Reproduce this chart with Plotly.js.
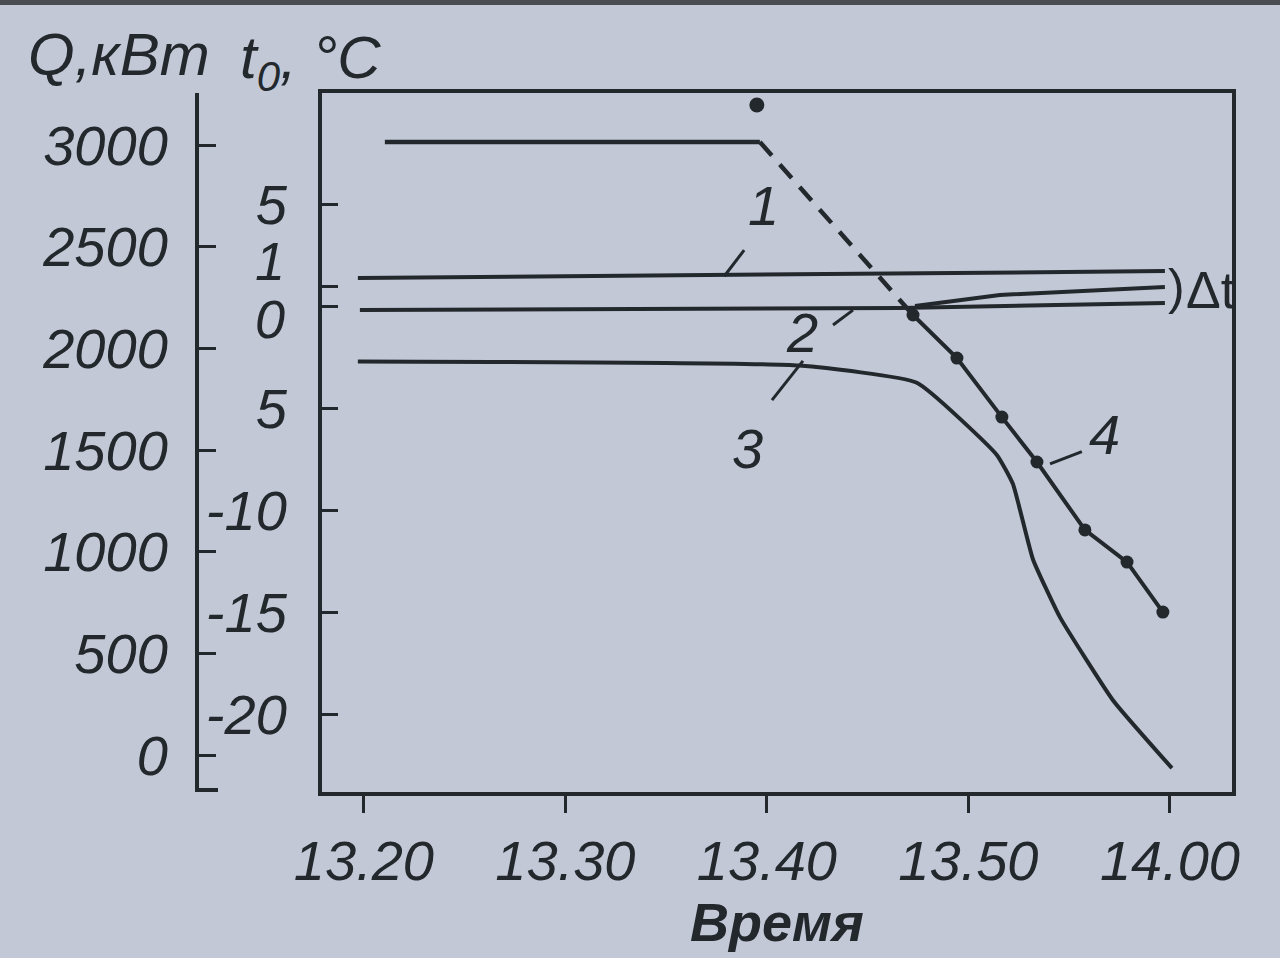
<!DOCTYPE html>
<html>
<head>
<meta charset="utf-8">
<script src="https://cdn.plot.ly/plotly-3.0.1.min.js"></script>
<style>
  html, body { margin: 0; padding: 0; background: #c3c8d7; }
  #chart { width: 1280px; height: 958px; }
</style>
</head>
<body>
<div id="chart"></div>
<script>
// ---- data (time in minutes after 13:00) ----
const xTickVals = [20, 30, 40, 50, 60];
const xTickText = ['13.20', '13.30', '13.40', '13.50', '14.00'];
const qTickVals = [0, 500, 1000, 1500, 2000, 2500, 3000];
const qTickText = ['0', '500', '1000', '1500', '2000', '2500', '3000'];
const tTickVals = [5, -5, -10, -15, -20];
const tTickText = ['5', '5', '-10', '-15', '-20'];
const tTickOneVal = [1];
const tTickOneText = ['1'];
const tTickZeroVal = [0];
const tTickZeroText = ['0'];

// curve 1 (temperature)
const curve1Time = [19.7, 59.75];
const curve1Temp = [1.41, 1.75];
// curve 2 (temperature) and its upper branch
const curve2Time = [19.8, 46.6, 59.75];
const curve2Temp = [-0.16, -0.06, 0.19];
const curve2bTime = [47.35, 51.56, 59.75];
const curve2bTemp = [0.04, 0.58, 0.97];
// curve 3 (t0)
const curve3Time = [19.7, 41.6, 47.44, 51.41, 52.21, 53.2, 54.54, 57.17, 60.1];
const curve3Temp = [-2.68, -2.88, -3.72, -7.26, -8.69, -12.37, -15.21, -19.28, -22.61];
// Q before drop (solid) and estimated drop (dashed)
const qFlatTime = [21.04, 39.65];
const qFlatVal = [3015, 3015];
const qDashTime = [39.65, 47.25];
const qDashVal = [3015, 2164];
const qDotTime = [39.5];
const qDotVal = [3197];
// curve 4 (Q, measured points)
const curve4Time = [47.25, 49.43, 51.66, 53.4, 55.78, 57.87, 59.65];
const curve4Q = [2164, 1952, 1662, 1441, 1107, 949, 703];

const INK = '#23282d';
const BG = '#c3c8d7';
const FONT = 'Liberation Sans, Arial, sans-serif';
const tickFont = { family: FONT, size: 56, color: INK, style: 'italic' };
const smallTickFont = { family: FONT, size: 54, color: INK, style: 'italic' };

const lineStyle = { color: INK, width: 4 };

const traces = [
  { x: curve1Time, y: curve1Temp, mode: 'lines', line: lineStyle, yaxis: 'y', name: '1' },
  { x: curve2Time, y: curve2Temp, mode: 'lines', line: lineStyle, yaxis: 'y', name: '2' },
  { x: curve2bTime, y: curve2bTemp, mode: 'lines', line: lineStyle, yaxis: 'y', name: '2b' },
  { x: curve3Time, y: curve3Temp, mode: 'lines', line: { color: INK, width: 4, shape: 'spline', smoothing: 0.4 }, yaxis: 'y', name: '3' },
  { x: qFlatTime, y: qFlatVal, mode: 'lines', line: { color: INK, width: 4.5 }, yaxis: 'y2', name: 'Q' },
  { x: qDashTime, y: qDashVal, mode: 'lines', line: { color: INK, width: 4.5, dash: '18px,12px' }, yaxis: 'y2', name: 'Q est.' },
  { x: qDotTime, y: qDotVal, mode: 'markers', marker: { color: INK, size: 15 }, yaxis: 'y2', name: 'Q pt' },
  { x: curve4Time, y: curve4Q, mode: 'lines+markers', line: { color: INK, width: 4 }, marker: { color: INK, size: 13 }, yaxis: 'y2', name: '4' },
  // placeholders so the extra temperature axes (ticks 1 and 0) are drawn
  { x: curve1Time, y: curve1Temp, mode: 'lines', line: { width: 0, color: 'rgba(0,0,0,0)' }, yaxis: 'y3', hoverinfo: 'skip', name: 'ax1' },
  { x: curve2Time, y: curve2Temp, mode: 'lines', line: { width: 0, color: 'rgba(0,0,0,0)' }, yaxis: 'y4', hoverinfo: 'skip', name: 'ax0' }
];

const L = 150, R = 48, T = 93, B = 166, W = 1280, H = 958;
const pw = W - L - R, ph = H - T - B;
const px = v => (v - L) / pw;          // pixel x -> paper
const py = v => (H - B - v) / ph;      // pixel y -> paper

const labelFont = { family: FONT, size: 56, color: INK, style: 'italic' };
const headFont = { family: FONT, size: 60, color: INK, style: 'italic' };

const tRange = [-23.78, 10.48];
const extraTAxis = (vals, text, shift) => ({
  overlaying: 'y', anchor: 'x', side: 'left',
  range: tRange, tickvals: vals, ticktext: text,
  ticks: 'inside', ticklen: 16, tickwidth: 3, tickcolor: INK,
  showline: false, showgrid: false, zeroline: false,
  tickfont: smallTickFont, ticklabelstandoff: 36, ticklabelshift: shift
});

const layout = {
  width: W, height: H,
  margin: { l: L, r: R, t: T, b: B },
  paper_bgcolor: BG, plot_bgcolor: BG,
  showlegend: false,
  xaxis: {
    domain: [px(322), 1],
    range: [17.92, 63.08],
    tickvals: xTickVals, ticktext: xTickText,
    ticks: 'outside', ticklen: 17, tickwidth: 3, tickcolor: INK,
    showline: true, mirror: true, linewidth: 4, linecolor: INK,
    showgrid: false, zeroline: false,
    tickfont: tickFont, ticklabelstandoff: 0,
    title: { text: 'Время', font: { family: FONT, size: 54, color: INK, style: 'italic', weight: 'bold' }, standoff: 2 }
  },
  yaxis: {
    range: tRange,
    tickvals: tTickVals, ticktext: tTickText,
    ticks: 'inside', ticklen: 16, tickwidth: 3, tickcolor: INK,
    showline: true, mirror: true, linewidth: 4, linecolor: INK,
    showgrid: false, zeroline: false,
    tickfont: tickFont, ticklabelstandoff: 20
  },
  yaxis3: extraTAxis(tTickOneVal, tTickOneText, -25),
  yaxis4: extraTAxis(tTickZeroVal, tTickZeroText, 12),
  yaxis2: {
    overlaying: 'y', anchor: 'free', position: px(197), side: 'left',
    range: [-182, 3256],
    tickvals: qTickVals, ticktext: qTickText,
    ticks: 'inside', ticklen: 17, tickwidth: 3, tickcolor: INK,
    showline: true, linewidth: 4, linecolor: INK,
    showgrid: false, zeroline: false,
    tickfont: tickFont, ticklabelstandoff: 16
  },
  shapes: [
    // hook at bottom of Q axis
    { type: 'line', xref: 'paper', yref: 'paper', x0: px(197), x1: px(218), y0: py(790), y1: py(790), line: { color: INK, width: 4 } },
    // leader lines for curve labels
    { type: 'line', xref: 'x', yref: 'y', x0: 38.87, y0: 2.78, x1: 37.88, y1: 1.5, line: { color: INK, width: 3 } },
    { type: 'line', xref: 'x', yref: 'y', x0: 43.28, y0: -0.89, x1: 44.27, y1: -0.16, line: { color: INK, width: 3 } },
    { type: 'line', xref: 'x', yref: 'y', x0: 40.25, y0: -4.57, x1: 41.79, y1: -2.65, line: { color: INK, width: 3 } },
    { type: 'line', xref: 'x', yref: 'y', x0: 54.05, y0: -7.7, x1: 55.63, y1: -7.1, line: { color: INK, width: 3 } },
    // dark scan edge at top
    { type: 'rect', xref: 'paper', yref: 'paper', x0: px(0), x1: px(1280), y0: py(0), y1: py(5), fillcolor: '#4a4d52', line: { width: 0 } }
  ],
  annotations: [
    { text: 'Q,кВт', xref: 'paper', yref: 'paper', x: px(26), y: py(55), xanchor: 'left', yanchor: 'middle', showarrow: false, font: headFont },
    { text: 't<sub>0</sub>, °C', xref: 'paper', yref: 'paper', x: px(238), y: py(62), xanchor: 'left', yanchor: 'middle', showarrow: false, font: headFont },
    // curve numbers
    { text: '1', xref: 'x', yref: 'y', x: 39.85, y: 4.99, showarrow: false, font: labelFont },
    { text: '2', xref: 'x', yref: 'y', x: 41.74, y: -1.28, showarrow: false, font: labelFont },
    { text: '3', xref: 'x', yref: 'y', x: 39.06, y: -6.92, showarrow: false, font: labelFont },
    { text: '4', xref: 'x', yref: 'y', x: 56.77, y: -6.28, showarrow: false, font: labelFont },
    // delta t bracket and label
    { text: ')', xref: 'paper', yref: 'paper', x: px(1176), y: py(287), xanchor: 'center', yanchor: 'middle', showarrow: false, font: { family: FONT, size: 50, color: INK } },
    { text: 'Δt', xref: 'paper', yref: 'paper', x: px(1184), y: py(290), xanchor: 'left', yanchor: 'middle', showarrow: false, font: { family: FONT, size: 52, color: INK } }
  ]
};

Plotly.newPlot('chart', traces, layout, { staticPlot: true, displayModeBar: false });
</script>
</body>
</html>
